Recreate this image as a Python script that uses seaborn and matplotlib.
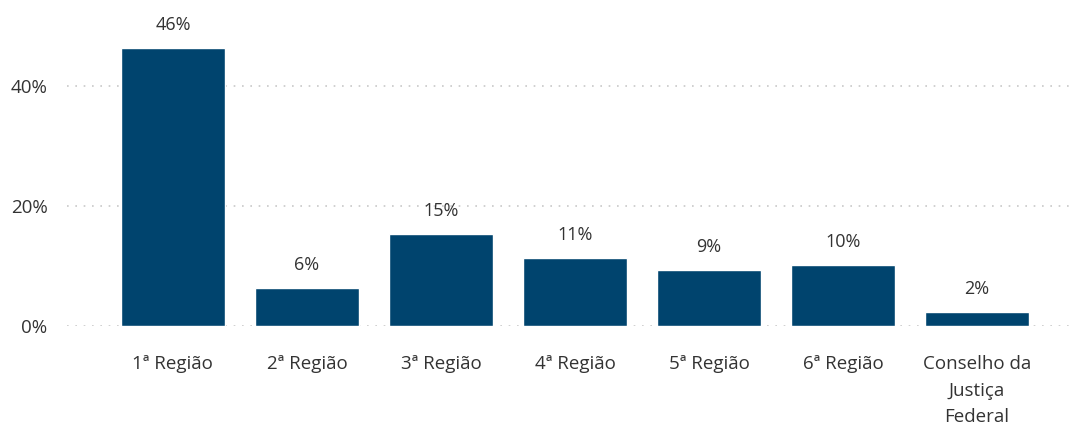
import matplotlib.pyplot as plt
import seaborn as sns
import pandas as pd

regioes = ['1ª Região', '2ª Região', '3ª Região', '4ª Região', '5ª Região', '6ª Região',
           'Conselho da\nJustiça\nFederal']
percentuais = [46.4, 6.4, 15.3, 11.4, 9.4, 10.1, 2.3]

df = pd.DataFrame({'regiao': regioes, 'pct': percentuais})

sns.set_style('white')
plt.rcParams['font.family'] = ['Open Sans', 'DejaVu Sans']
text_color = '#333333'

fig = plt.figure(figsize=(10.78, 4.34), dpi=100)
ax = fig.add_axes([0.0622, 0.249, 0.930, 0.691])

sns.barplot(data=df, x='regiao', y='pct', color='#00446E', saturation=1,
            width=0.776, ax=ax, zorder=3)

# rótulos de dados
for i, v in enumerate(percentuais):
    ax.annotate(f'{v:.0f}%', (i, v), xytext=(0, 10), textcoords='offset points',
                ha='center', va='bottom', fontsize=13, color=text_color)

ax.set_ylim(0, 50)
ax.set_xlim(-0.79, 6.69)
ax.set_yticks([0, 20, 40])
ax.set_yticklabels(['0%', '20%', '40%'])
ax.yaxis.grid(True, linestyle=(0, (1, 4)), color='#c8c8c8', linewidth=1.2, zorder=0)
ax.tick_params(axis='y', length=0, pad=14, labelsize=13.5, labelcolor=text_color)
ax.tick_params(axis='x', length=0, pad=21, labelsize=13.5, labelcolor=text_color)
for lbl in ax.get_xticklabels():
    lbl.set_linespacing(1.62)
ax.set_xlabel('')
ax.set_ylabel('')
sns.despine(ax=ax, left=True, bottom=True)

fig.savefig('out.png', dpi=100)
